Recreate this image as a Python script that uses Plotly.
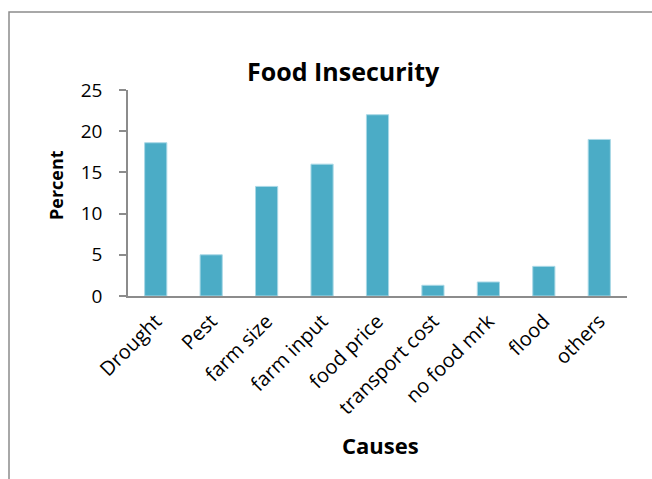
import plotly.graph_objects as go

# Survey results: reported causes of food insecurity (percent of respondents)
causes = ["Drought", "Pest", "farm size", "farm input", "food price",
          "transport cost", "no food mrk", "flood", "others"]
percent = [18.6, 5.0, 13.3, 16.0, 22.0, 1.3, 1.7, 3.6, 19.0]

W, H = 652, 479
L, R, T, B = 128, 25, 90, 183
pw, ph = W - L - R, H - T - B

def px_x(px):
    return (px - L) / pw

def px_y(py):
    return (H - B - py) / ph

FONT = "Open Sans"

fig = go.Figure(go.Bar(
    x=causes, y=percent,
    marker=dict(color="#4BACC6", line=dict(color="#A9D8E6", width=1)),
))

fig.update_layout(
    width=W, height=H,
    margin=dict(l=L, r=R, t=T, b=B, pad=0),
    paper_bgcolor="white", plot_bgcolor="white",
    bargap=0.6, showlegend=False,
    font=dict(family=FONT, size=16, color="#000000"),
    xaxis=dict(
        showgrid=False, showline=True, linecolor="#8C8C8C", linewidth=1.5,
        ticks="", tickangle=-45, tickfont=dict(size=20),
        ticklabelstandoff=4,
    ),
    yaxis=dict(
        range=[0, 25], dtick=5, showgrid=False, zeroline=False,
        showline=True, linecolor="#8C8C8C", linewidth=1.5,
        ticks="outside", ticklen=7, tickcolor="#8C8C8C", tickwidth=1.5,
        tickfont=dict(size=19), ticklabelstandoff=13,
    ),
    annotations=[
        dict(text="<b>Food Insecurity</b>", xref="paper", yref="paper",
             x=px_x(343), y=px_y(71), xanchor="center", yanchor="middle",
             showarrow=False, font=dict(size=25)),
        dict(text="<b>Percent</b>", xref="paper", yref="paper",
             x=px_x(56), y=px_y(185), xanchor="center", yanchor="middle",
             textangle=-90, showarrow=False, font=dict(size=18)),
        dict(text="<b>Causes</b>", xref="paper", yref="paper",
             x=px_x(380), y=px_y(445), xanchor="center", yanchor="middle",
             showarrow=False, font=dict(size=22)),
    ],
    shapes=[
        dict(type="rect", xref="paper", yref="paper",
             x0=px_x(9), x1=px_x(700), y0=px_y(12), y1=px_y(520),
             line=dict(color="#8C8C8C", width=1.5), layer="below"),
    ],
)

fig.write_html("out.html")
